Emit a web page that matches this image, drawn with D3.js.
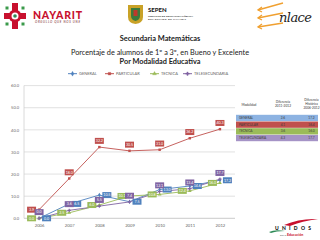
<!DOCTYPE html>
<html lang="es">
<head>
<meta charset="UTF-8">
<title>Secundaria Matemáticas</title>
<script src="https://d3js.org/d3.v7.min.js"></script>
<style>
  body { margin: 0; background: #fff; }
  svg { display: block; font-family: Lato, "Open Sans", sans-serif; }
</style>
</head>
<body>
<div id="chart"></div>
<script>
// data
const years = ["2006", "2007", "2008", "2009", "2010", "2011", "2012"];
const general = [0.0, 6.5, 10.5, 7.5, 13.0, 14.6, 17.2];
const particular = [3.9, 18.0, 32.2, 30.5, 31.0, 36.2, 40.3];
const tecnica = [0.0, 2.5, 6.0, 10.1, 10.8, 12.4, 16.0];
const telesecundaria = [0.0, 3.6, 5.5, 7.4, 12.1, 13.4, 17.7];
const seriesNames = ["GENERAL", "PARTICULAR", "TECNICA", "TELESECUNDARIA"];
const yTicks = [0, 10, 20, 30, 40, 50, 60];

// styles
const colors = ["#4F81BD", "#C0504D", "#9BBB59", "#8064A2"];
const rowColors = ["#8DB3E2", "#C0504D", "#9BBB59", "#A593C6"];
const symbols = [d3.symbolDiamond, d3.symbolSquare, d3.symbolTriangle, d3.symbolCross];
// label placement per series: l = left, r = right, t = above
const labelPos = [
  ["r", "r", "r", "r", "r", "r", "r"],
  ["l", "t", "t", "t", "t", "t", "t"],
  ["l", "l", "l", "l", "l", "l", "l"],
  ["t", "t", "t", "t", "t", "t", "t"]
];

const W = 320, H = 240;
const values = [general, particular, tecnica, telesecundaria];
const series = seriesNames.map((n, i) => ({ name: n, values: values[i], color: colors[i], i }));

const svg = d3.select("#chart").append("svg").attr("width", W).attr("height", H);

// ---- header logos ----
const logo = svg.append("g");
// Nayarit emblem
const em = logo.append("g").attr("transform", "translate(15,16)");
em.append("rect").attr("x", -3).attr("y", -13).attr("width", 6).attr("height", 26).attr("fill", "#C8102E");
em.append("rect").attr("x", -11).attr("y", -3).attr("width", 22).attr("height", 6).attr("fill", "#C8102E");
em.append("circle").attr("r", 6.5).attr("fill", "#C8102E");
em.append("circle").attr("r", 3.5).attr("fill", "#fff");
em.append("circle").attr("r", 1.8).attr("fill", "#2E8B57");
[[-8, -8], [8, -8], [-8, 8], [8, 8]].forEach(p =>
  em.append("rect").attr("x", p[0] - 1.5).attr("y", p[1] - 1.5).attr("width", 3).attr("height", 3).attr("fill", "#3A9A4A"));
logo.append("text").attr("x", 33).attr("y", 18.5).attr("font-size", 10.5).attr("font-weight", 900)
  .attr("fill", "#C8102E").attr("textLength", 49).text("NAYARIT");
logo.append("text").attr("x", 35).attr("y", 22.5).attr("font-size", 3).attr("font-style", "italic")
  .attr("fill", "#7a2a2a").attr("textLength", 45).text("ORGULLO QUE NOS UNE");

// SEPEN
const sh = logo.append("g").attr("transform", "translate(128,5)");
sh.append("path").attr("d", "M0,0 H15 V12 Q15,18 7.5,19 Q0,18 0,12 Z").attr("fill", "#C9A227");
sh.append("path").attr("d", "M3,3 H12 V11 Q12,15 7.5,16 Q3,15 3,11 Z").attr("fill", "#3C7A3C");
sh.append("rect").attr("x", 5.5).attr("y", 5).attr("width", 4).attr("height", 6).attr("fill", "#C0392B");
logo.append("text").attr("x", 148).attr("y", 12).attr("font-size", 6).attr("font-weight", 900).attr("fill", "#222").text("SEPEN");
logo.append("text").attr("x", 148).attr("y", 16.5).attr("font-size", 2.6).attr("font-weight", 700).attr("fill", "#333").attr("textLength", 45).text("SERVICIOS DE EDUCACIÓN PÚBLICA");
logo.append("text").attr("x", 148).attr("y", 20).attr("font-size", 2.6).attr("font-weight", 700).attr("fill", "#333").attr("textLength", 38).text("DEL ESTADO DE NAYARIT");

// Enlace
const en = logo.append("g").attr("stroke", "#F0A030").attr("stroke-width", 1.3).attr("fill", "none");
[[283, 3, 258, 10], [283, 13, 258, 18], [283, 23, 258, 27]].forEach(l => {
  en.append("line").attr("x1", l[0]).attr("y1", l[1]).attr("x2", l[2]).attr("y2", l[3]);
  en.append("path").attr("d", `M${l[2] + 4},${l[3] - 3} L${l[2]},${l[3]} L${l[2] + 4},${l[3] + 2}`);
});
logo.append("text").attr("x", 279).attr("y", 22).attr("font-size", 13).attr("font-style", "italic")
  .attr("font-family", "DejaVu Serif").attr("fill", "#222").attr("textLength", 33).text("nlace");

// ---- titles ----
svg.append("text").attr("x", 160).attr("y", 41).attr("text-anchor", "middle").attr("font-size", 7.4)
  .attr("font-weight", 700).attr("fill", "#222").text("Secundaria Matemáticas");
svg.append("text").attr("x", 160).attr("y", 54.5).attr("text-anchor", "middle").attr("font-size", 7.3)
  .attr("fill", "#222").text("Porcentaje de alumnos de 1º a 3º, en Bueno y Excelente");
svg.append("text").attr("x", 160).attr("y", 63.5).attr("text-anchor", "middle").attr("font-size", 7.3)
  .attr("font-weight", 700).attr("fill", "#222").text("Por Modalidad Educativa");

// ---- legend ----
const legendX = [68, 105, 150, 183];
const lg = svg.append("g");
series.forEach((s, i) => {
  const g = lg.append("g").attr("transform", `translate(${legendX[i]},73.7)`);
  g.append("line").attr("x1", 0).attr("x2", 9).attr("stroke", s.color).attr("stroke-width", 1);
  g.append("path").attr("transform", "translate(4.5,0)").attr("d", d3.symbol(symbols[i], 7)()).attr("fill", s.color).attr("stroke", s.color).attr("stroke-width", 0.3);
  g.append("text").attr("x", 11).attr("y", 1.4).attr("font-size", 4).attr("fill", "#666").text(s.name);
});

// ---- chart ----
const x = d3.scalePoint().domain(years).range([24, 235]).padding(0.5);
const y = d3.scaleLinear().domain([0, 60]).range([218.3, 85.6]);

const grid = svg.append("g");
grid.selectAll("line").data(yTicks).join("line")
  .attr("x1", 24).attr("x2", 235).attr("y1", d => y(d)).attr("y2", d => y(d))
  .attr("stroke", d => d === 0 ? "#bdbdbd" : "#d9d9d9").attr("stroke-width", 0.8);
svg.append("line").attr("x1", 24).attr("x2", 24).attr("y1", y(60)).attr("y2", y(0)).attr("stroke", "#d0d0d0").attr("stroke-width", 0.8);

const yAxis = d3.axisLeft(y).tickValues(yTicks).tickFormat(d3.format(".1f")).tickSize(0).tickPadding(5);
svg.append("g").attr("transform", "translate(24,0)").call(yAxis)
  .call(g => g.select(".domain").remove())
  .selectAll("text").attr("font-size", 4).attr("fill", "#666").attr("font-family", "Lato, sans-serif");

const xAxis = d3.axisBottom(x).tickSize(0).tickPadding(6);
svg.append("g").attr("transform", `translate(0,${y(0)})`).call(xAxis)
  .call(g => g.select(".domain").remove())
  .selectAll("text").attr("font-size", 4.2).attr("fill", "#666").attr("font-family", "Lato, sans-serif");

const line = d3.line().x((d, j) => x(years[j])).y(d => y(d));
const plot = svg.append("g");
series.forEach(s => {
  plot.append("path").datum(s.values).attr("d", line).attr("fill", "none")
    .attr("stroke", s.color).attr("stroke-width", 0.9);
  plot.selectAll(null).data(s.values).join("path")
    .attr("transform", (d, j) => `translate(${x(years[j])},${y(d)})`)
    .attr("d", d3.symbol(symbols[s.i], 6)).attr("fill", s.color);
});

// data labels
const lab = svg.append("g");
series.forEach(s => {
  s.values.forEach((v, j) => {
    const p = labelPos[s.i][j];
    let cx = x(years[j]), cy = y(v);
    if (p === "l") cx -= 7.5;
    if (p === "r") cx += 7.5;
    if (p === "t") cy -= 6.2;
    const g = lab.append("g").attr("transform", `translate(${cx},${cy})`);
    g.append("rect").attr("x", -4.5).attr("y", -3).attr("width", 9).attr("height", 6).attr("fill", s.color);
    g.append("text").attr("y", 1.3).attr("text-anchor", "middle").attr("font-size", 3.6)
      .attr("fill", "#fff").text(v.toFixed(1));
  });
});

// ---- table ----
const tb = svg.append("g").attr("font-size", 3.2).attr("fill", "#333");
tb.append("text").attr("x", 249).attr("y", 106).attr("text-anchor", "middle").text("Modalidad");
[["Diferencia", 103], ["2011-2012", 107]].forEach(t =>
  tb.append("text").attr("x", 283).attr("y", t[1]).attr("text-anchor", "middle").text(t[0]));
[["Diferencia", 101], ["Histórica", 105], ["2006-2012", 109]].forEach(t =>
  tb.append("text").attr("x", 311.5).attr("y", t[1]).attr("text-anchor", "middle").text(t[0]));
series.forEach((s, i) => {
  const top = 114.8 + i * 6.7;
  const v = s.values;
  tb.append("rect").attr("x", 236).attr("y", top).attr("width", 82).attr("height", 6.3).attr("fill", rowColors[i]);
  tb.append("text").attr("x", 239).attr("y", top + 4.2).attr("fill", "#3a3a3a").text(s.name);
  tb.append("text").attr("x", 283).attr("y", top + 4.2).attr("text-anchor", "middle").attr("fill", "#3a3a3a")
    .text((v[6] - v[5]).toFixed(1));
  tb.append("text").attr("x", 311.5).attr("y", top + 4.2).attr("text-anchor", "middle").attr("fill", "#3a3a3a")
    .text((v[6] - v[0]).toFixed(1));
});

// ---- bottom right logo ----
const un = svg.append("g");
un.append("path").attr("d", "M284,225 Q300,218 318,219 Q302,221 290,226 Z").attr("fill", "#C8102E");
un.append("text").attr("x", 275).attr("y", 229.5).attr("font-size", 5).attr("font-weight", 900)
  .attr("fill", "#111").attr("textLength", 36).text("UNIDOS");
un.append("path").attr("d", "M269,232 Q275,229 285,231 Q276,231 271,233 Z").attr("fill", "#2E8B57");
un.append("text").attr("x", 287).attr("y", 235.5).attr("font-size", 3.6).attr("font-weight", 700)
  .attr("fill", "#C8102E").text("Educación");
un.append("text").attr("x", 280).attr("y", 235.5).attr("font-size", 2.6).attr("fill", "#555").text("por la");
</script>
</body>
</html>
